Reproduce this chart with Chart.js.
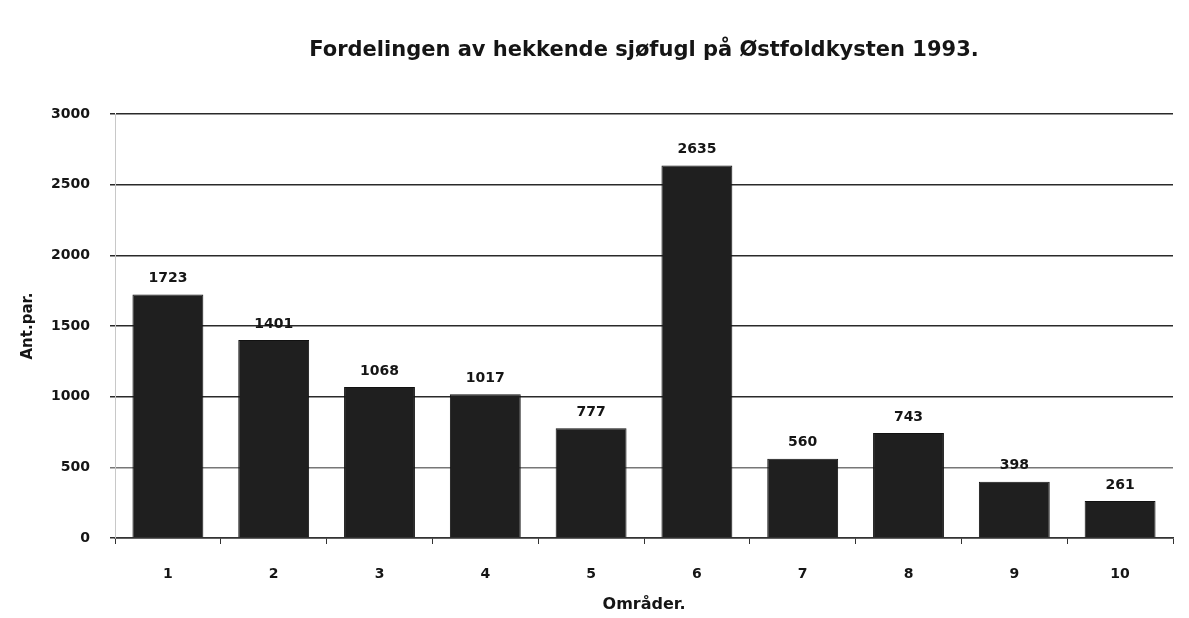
<!DOCTYPE html>
<html>
<head>
<meta charset="utf-8">
<title>Fordelingen av hekkende sjøfugl</title>
<script src="https://cdn.jsdelivr.net/npm/chart.js@4/dist/chart.umd.min.js"></script>
<style>
  html, body { margin: 0; padding: 0; background: #fff; }
  #wrap { position: relative; width: 1189px; height: 618px; }
</style>
</head>
<body>
<div id="wrap"><canvas id="chart" width="1189" height="618"></canvas></div>
<script>
// Seabird breeding pairs per coastal area, Østfold 1993.
const AREAS = ["1", "2", "3", "4", "5", "6", "7", "8", "9", "10"];
const PAIRS = [1723, 1401, 1068, 1017, 777, 2635, 560, 743, 398, 261];
const Y_TICKS = [0, 500, 1000, 1500, 2000, 2500, 3000];

const FONT = "'DejaVu Sans', 'Liberation Sans', Arial, sans-serif";
const INK = "#151515";

// Value labels above each bar
const barLabels = {
  id: "barLabels",
  afterDatasetsDraw(chart) {
    const { ctx } = chart;
    const meta = chart.getDatasetMeta(0);
    ctx.save();
    ctx.font = `bold 14px ${FONT}`;
    ctx.fillStyle = INK;
    ctx.textAlign = "center";
    ctx.textBaseline = "bottom";
    meta.data.forEach((bar, i) => {
      ctx.fillText(String(PAIRS[i]), bar.x, bar.y - 9);
    });
    ctx.restore();
  },
};

new Chart(document.getElementById("chart"), {
  type: "bar",
  data: {
    labels: AREAS,
    datasets: [{
      data: PAIRS,
      backgroundColor: "#1f1f1f",
      borderColor: "#111",
      borderWidth: 1,
      categoryPercentage: 1,
      barPercentage: 0.67,
    }],
  },
  options: {
    responsive: false,
    animation: false,
    layout: { padding: { left: 0, right: 16, top: 0, bottom: 0 } },
    plugins: {
      legend: { display: false },
      tooltip: { enabled: false },
      title: {
        display: true,
        fullSize: false,
        text: "Fordelingen av hekkende sjøfugl på Østfoldkysten 1993.",
        color: INK,
        font: { family: FONT, size: 21, weight: "bold", lineHeight: 1.2 },
        padding: { top: 38, bottom: 50.8 },
      },
    },
    scales: {
      x: {
        grid: { offset: true, drawOnChartArea: false, tickLength: 6, color: "#333", lineWidth: 1 },
        border: { color: "#333", width: 1.5 },
        ticks: { color: INK, padding: 22, font: { family: FONT, size: 14, weight: "bold" } },
        title: {
          display: true,
          text: "Områder.",
          color: INK,
          font: { family: FONT, size: 16, weight: "bold", lineHeight: 1.2 },
          padding: { top: 4, bottom: 4 },
        },
        afterFit(scale) { scale.height = 80; },
      },
      y: {
        min: 0,
        max: 3000,
        afterBuildTicks(scale) { scale.ticks = Y_TICKS.map((v) => ({ value: v })); },
        grid: {
          color: (c) => (c.tick && c.tick.value === 500 ? "#777" : "#2a2a2a"),
          lineWidth: 1.5,
          tickLength: 5,
        },
        border: { display: true, color: "#c8c8c8", width: 1 },
        ticks: {
          color: INK,
          padding: 20,
          font: { family: FONT, size: 14, weight: "bold" },
          callback: (v) => String(v),
        },
        title: {
          display: true,
          text: "Ant.par.",
          color: INK,
          font: { family: FONT, size: 15, weight: "bold", lineHeight: 1.2 },
          padding: { top: 19, bottom: 0 },
        },
        afterFit(scale) { scale.width = 115; },
      },
    },
  },
  plugins: [barLabels],
});
</script>
</body>
</html>
